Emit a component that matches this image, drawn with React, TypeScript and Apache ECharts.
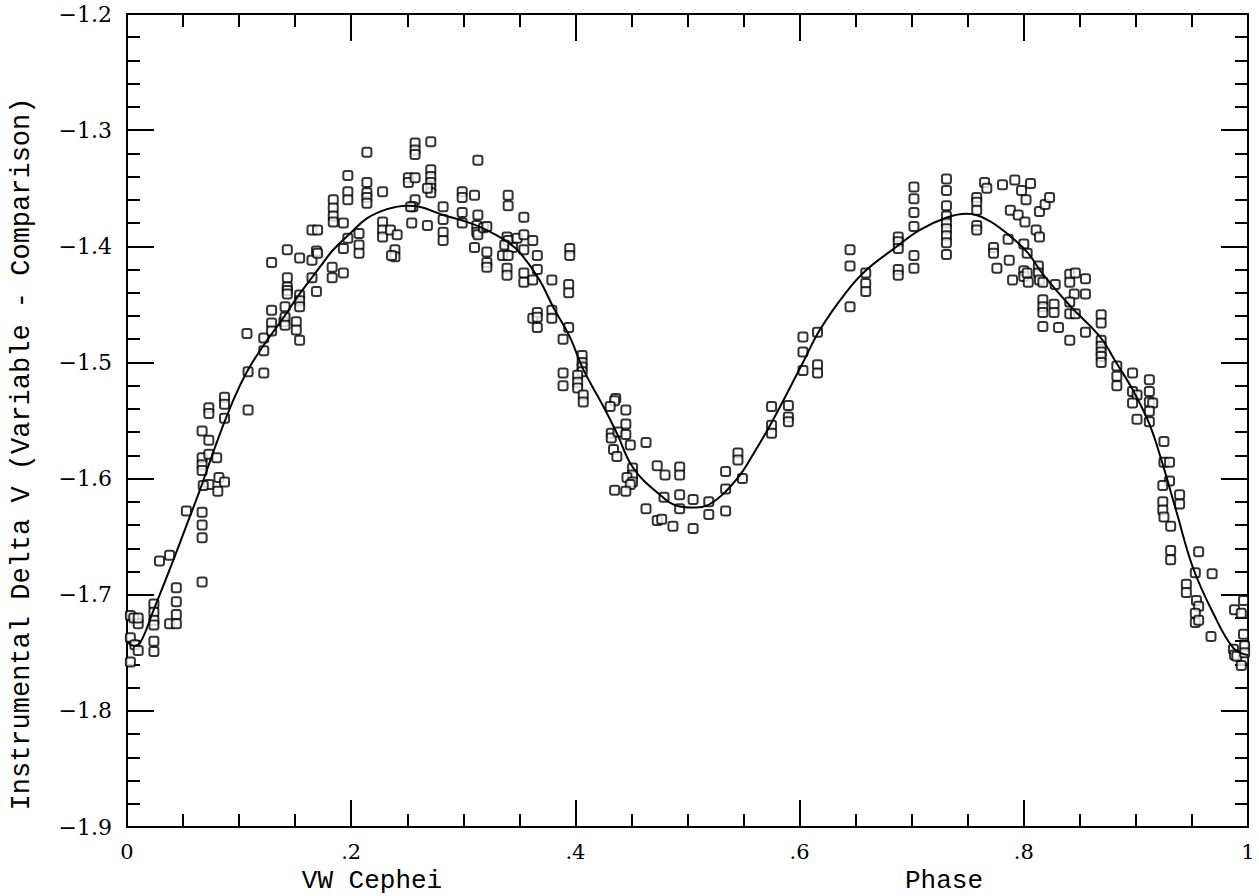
import React, { useEffect, useRef } from "react";
import * as echarts from "echarts";

// Observations: [phase, instrumental delta V]
const obsRise: number[][] = [
  [0.003, -1.718], [0.006, -1.72], [0.01, -1.725], [0.01, -1.72], [0.003, -1.737], [0.007, -1.743], [0.01, -1.748], [0.003, -1.758],
  [0.024, -1.708], [0.024, -1.715], [0.024, -1.722], [0.024, -1.726], [0.024, -1.74], [0.024, -1.749],
  [0.038, -1.666], [0.029, -1.671], [0.038, -1.725], [0.044, -1.694], [0.044, -1.706], [0.044, -1.717], [0.044, -1.725],
  [0.067, -1.689], [0.053, -1.628], [0.067, -1.629], [0.067, -1.64], [0.067, -1.651],
  [0.067, -1.559], [0.073, -1.567], [0.067, -1.582], [0.067, -1.588], [0.067, -1.593], [0.073, -1.579], [0.08, -1.582],
  [0.082, -1.599], [0.087, -1.603], [0.081, -1.611], [0.073, -1.605], [0.068, -1.606],
  [0.073, -1.539], [0.073, -1.544], [0.087, -1.53], [0.087, -1.536], [0.087, -1.548],
  [0.108, -1.541], [0.107, -1.475], [0.108, -1.508], [0.122, -1.509], [0.122, -1.49], [0.122, -1.479],
  [0.129, -1.455], [0.129, -1.414], [0.129, -1.466], [0.129, -1.473],
  [0.14, -1.465], [0.141, -1.461], [0.141, -1.468], [0.141, -1.452],
  [0.143, -1.403], [0.143, -1.427], [0.143, -1.435], [0.143, -1.438], [0.143, -1.441],
  [0.151, -1.465], [0.151, -1.472], [0.154, -1.481], [0.154, -1.442], [0.154, -1.447], [0.154, -1.452], [0.154, -1.41],
  [0.165, -1.427], [0.165, -1.412], [0.169, -1.404], [0.169, -1.439], [0.165, -1.386], [0.17, -1.386], [0.17, -1.406],
];

const obsPeak1: number[][] = [
  [0.184, -1.36], [0.184, -1.367], [0.184, -1.374], [0.184, -1.379], [0.193, -1.38],
  [0.183, -1.418], [0.183, -1.427], [0.193, -1.423], [0.193, -1.402], [0.197, -1.393], [0.197, -1.339], [0.197, -1.353], [0.197, -1.36],
  [0.207, -1.389], [0.207, -1.399], [0.207, -1.406],
  [0.214, -1.319], [0.214, -1.345], [0.214, -1.354], [0.214, -1.358], [0.214, -1.363],
  [0.228, -1.353], [0.228, -1.379], [0.228, -1.386], [0.228, -1.392], [0.235, -1.386], [0.241, -1.39], [0.239, -1.403], [0.239, -1.409], [0.236, -1.408],
  [0.254, -1.38], [0.251, -1.341], [0.251, -1.345], [0.257, -1.341], [0.257, -1.311], [0.257, -1.317], [0.257, -1.321], [0.257, -1.36], [0.255, -1.366], [0.253, -1.366],
  [0.271, -1.31], [0.271, -1.334], [0.271, -1.34], [0.271, -1.345], [0.271, -1.35], [0.271, -1.354], [0.268, -1.35], [0.268, -1.382],
  [0.282, -1.366], [0.282, -1.377], [0.282, -1.388], [0.282, -1.395],
  [0.299, -1.353], [0.299, -1.358], [0.299, -1.371], [0.299, -1.38],
  [0.31, -1.356], [0.313, -1.326], [0.313, -1.373], [0.312, -1.382], [0.312, -1.388], [0.313, -1.39], [0.318, -1.384], [0.321, -1.383],
  [0.31, -1.401], [0.321, -1.405], [0.321, -1.414], [0.321, -1.418],
  [0.34, -1.356], [0.34, -1.365], [0.339, -1.392], [0.34, -1.395], [0.337, -1.399], [0.348, -1.393], [0.344, -1.401], [0.335, -1.408], [0.34, -1.408], [0.339, -1.419], [0.339, -1.425],
  [0.354, -1.375], [0.354, -1.39], [0.362, -1.395], [0.354, -1.403], [0.366, -1.408], [0.354, -1.423], [0.354, -1.431], [0.362, -1.429], [0.366, -1.42], [0.379, -1.429],
  [0.362, -1.462], [0.366, -1.457], [0.366, -1.461], [0.366, -1.47], [0.379, -1.455], [0.379, -1.462],
  [0.395, -1.402], [0.395, -1.408], [0.394, -1.433], [0.394, -1.44],
];

const obsDip: number[][] = [
  [0.394, -1.47], [0.389, -1.48], [0.406, -1.494], [0.406, -1.5], [0.406, -1.504], [0.406, -1.508], [0.389, -1.509], [0.389, -1.52],
  [0.402, -1.511], [0.402, -1.517], [0.402, -1.522], [0.407, -1.528], [0.407, -1.534],
  [0.436, -1.531], [0.435, -1.533], [0.431, -1.538], [0.445, -1.541], [0.445, -1.553], [0.432, -1.561], [0.432, -1.565], [0.438, -1.56],
  [0.445, -1.562], [0.449, -1.571], [0.463, -1.569], [0.434, -1.575], [0.437, -1.581],
  [0.451, -1.591], [0.451, -1.597], [0.446, -1.599], [0.451, -1.603], [0.449, -1.605], [0.435, -1.61], [0.445, -1.611],
  [0.473, -1.589], [0.48, -1.597], [0.493, -1.59], [0.493, -1.597], [0.479, -1.616], [0.463, -1.626], [0.473, -1.636], [0.477, -1.635],
  [0.487, -1.641], [0.493, -1.614], [0.493, -1.626], [0.505, -1.618], [0.505, -1.643], [0.519, -1.62], [0.519, -1.631],
  [0.534, -1.594], [0.534, -1.609], [0.534, -1.628], [0.545, -1.578], [0.545, -1.584],
];

const obsPeak2: number[][] = [
  [0.549, -1.6], [0.575, -1.538], [0.575, -1.554], [0.575, -1.561], [0.59, -1.537], [0.59, -1.547], [0.59, -1.551],
  [0.603, -1.478], [0.603, -1.491], [0.603, -1.507], [0.616, -1.474], [0.616, -1.502], [0.616, -1.509],
  [0.645, -1.403], [0.645, -1.417], [0.645, -1.452], [0.659, -1.423], [0.659, -1.432], [0.659, -1.439],
  [0.688, -1.392], [0.688, -1.396], [0.688, -1.402], [0.688, -1.42], [0.688, -1.425],
  [0.702, -1.349], [0.702, -1.359], [0.702, -1.371], [0.702, -1.383], [0.702, -1.408], [0.702, -1.419],
  [0.731, -1.342], [0.731, -1.352], [0.731, -1.365], [0.731, -1.374], [0.731, -1.38], [0.731, -1.385], [0.731, -1.391], [0.731, -1.397], [0.731, -1.407],
  [0.758, -1.358], [0.758, -1.362], [0.758, -1.369], [0.758, -1.382], [0.758, -1.386],
  [0.765, -1.345], [0.767, -1.35], [0.781, -1.347], [0.792, -1.343], [0.798, -1.352], [0.802, -1.36], [0.806, -1.346],
  [0.814, -1.37], [0.819, -1.364], [0.823, -1.358], [0.788, -1.369], [0.795, -1.373], [0.801, -1.379], [0.811, -1.386],
];

const obsFall: number[][] = [
  [0.773, -1.401], [0.773, -1.406], [0.786, -1.394], [0.8, -1.398], [0.803, -1.406], [0.814, -1.392],
  [0.776, -1.419], [0.787, -1.412], [0.79, -1.429], [0.8, -1.421], [0.8, -1.426], [0.803, -1.423], [0.804, -1.431],
  [0.813, -1.417], [0.813, -1.423], [0.814, -1.429], [0.817, -1.431], [0.828, -1.433], [0.841, -1.424], [0.841, -1.431],
  [0.846, -1.423], [0.855, -1.428], [0.845, -1.441], [0.855, -1.441], [0.817, -1.446], [0.817, -1.452], [0.817, -1.457],
  [0.827, -1.45], [0.827, -1.457], [0.841, -1.448], [0.841, -1.458], [0.846, -1.458], [0.817, -1.469], [0.831, -1.47],
  [0.841, -1.481], [0.855, -1.474], [0.869, -1.459], [0.869, -1.466], [0.869, -1.481], [0.869, -1.486], [0.869, -1.491],
  [0.869, -1.495], [0.869, -1.5], [0.883, -1.503], [0.883, -1.512], [0.883, -1.52], [0.897, -1.509], [0.897, -1.525],
  [0.901, -1.528], [0.897, -1.535], [0.901, -1.549], [0.912, -1.515], [0.912, -1.525], [0.912, -1.534], [0.915, -1.535],
  [0.912, -1.542], [0.912, -1.551], [0.925, -1.568], [0.925, -1.586], [0.93, -1.586], [0.93, -1.602], [0.924, -1.606],
  [0.924, -1.62], [0.924, -1.627], [0.925, -1.633], [0.931, -1.641], [0.939, -1.614], [0.939, -1.622], [0.931, -1.662],
  [0.931, -1.67], [0.956, -1.663], [0.953, -1.681], [0.968, -1.682], [0.945, -1.691], [0.945, -1.698], [0.954, -1.705],
  [0.956, -1.71], [0.953, -1.716], [0.953, -1.724], [0.956, -1.722], [0.967, -1.736], [0.988, -1.713], [0.996, -1.705],
  [0.994, -1.716], [0.996, -1.734], [0.987, -1.747], [0.988, -1.752], [0.996, -1.756], [0.994, -1.761], [0.99, -1.753],
  [0.997, -1.744], [0.997, -1.75],
];

// Fitted light curve
const fitPhase: number[] = [
  0, 0.006, 0.012, 0.023, 0.041, 0.054, 0.065, 0.08, 0.095, 0.107, 0.122, 0.137, 0.154, 0.172, 0.184, 0.199, 0.214,
  0.232, 0.25, 0.261, 0.282, 0.303, 0.321, 0.339, 0.351, 0.368, 0.38, 0.395, 0.407, 0.425, 0.437, 0.451, 0.473,
  0.493, 0.508, 0.526, 0.546, 0.558, 0.576, 0.603, 0.618, 0.642, 0.66, 0.687, 0.707, 0.732, 0.749, 0.767, 0.785,
  0.803, 0.817, 0.841, 0.868, 0.883, 0.898, 0.912, 0.924, 0.936, 0.951, 0.969, 0.987, 1.0,
];
const fitMag: number[] = [
  -1.74, -1.744, -1.741, -1.715, -1.671, -1.638, -1.61, -1.569, -1.532, -1.508, -1.485, -1.465, -1.441, -1.418, -1.403, -1.389, -1.376,
  -1.368, -1.365, -1.366, -1.373, -1.379, -1.386, -1.396, -1.406, -1.429, -1.452, -1.478, -1.506, -1.538, -1.561, -1.59, -1.612,
  -1.624, -1.625, -1.618, -1.598, -1.58, -1.55, -1.5, -1.472, -1.439, -1.42, -1.4, -1.386, -1.375, -1.372, -1.377, -1.389,
  -1.405, -1.424, -1.451, -1.478, -1.501, -1.525, -1.553, -1.588, -1.628, -1.677, -1.716, -1.746, -1.752,
];

const xTickValues: number[] = [0, 0.2, 0.4, 0.6, 0.8, 1];
const yTickValues: number[] = [-1.9, -1.8, -1.7, -1.6, -1.5, -1.4, -1.3, -1.2];

const yTitle = "Instrumental Delta V (Variable - Comparison)";
const xTitleLeft = "VW Cephei";
const xTitleRight = "Phase";

const AXIS_COLOR = "#000";
const LABEL_FONT = "DejaVu Serif";
const MONO_FONT = "Liberation Mono";

function fmtX(v: number): string {
  const r = Math.round(v * 10) / 10;
  if (r === 0) return "0";
  if (r === 1) return "1";
  return r.toFixed(1).replace(/^0/, "");
}
function fmtY(v: number): string {
  const r = Math.round(v * 10) / 10;
  return (r < 0 ? "\u2212" : "") + Math.abs(r).toFixed(1);
}

export default function App() {
  const ref = useRef<HTMLDivElement>(null);
  useEffect(() => {
    if (!ref.current) return;
    const chart = echarts.init(ref.current, undefined, { renderer: "svg" });
    const tickStyle = { color: AXIS_COLOR, width: 2 };
    const baseX = {
      type: "value" as const,
      min: 0,
      max: 1,
      interval: 0.2,
      axisLine: { show: true, onZero: false, lineStyle: { color: AXIS_COLOR, width: 2 } },
      axisTick: { show: true, inside: true, length: 27, lineStyle: tickStyle },
      minorTick: { show: true, splitNumber: 4, length: 13, lineStyle: tickStyle },
      splitLine: { show: false },
      minorSplitLine: { show: false },
    };
    const baseY = {
      type: "value" as const,
      min: -1.9,
      max: -1.2,
      interval: 0.1,
      axisLine: { show: true, onZero: false, lineStyle: { color: AXIS_COLOR, width: 2 } },
      axisTick: { show: true, inside: true, length: 27, lineStyle: tickStyle },
      minorTick: { show: true, splitNumber: 5, length: 13, lineStyle: tickStyle },
      splitLine: { show: false },
      minorSplitLine: { show: false },
    };
    const pointStyle = {
      type: "scatter" as const,
      symbol: "roundRect",
      symbolSize: 9,
      itemStyle: { color: "#fff", borderColor: "#000", borderWidth: 2 },
      z: 3,
    };
    chart.setOption({
      animation: false,
      backgroundColor: "#fff",
      grid: { left: 127, right: 11, top: 14, bottom: 69, containLabel: false },
      xAxis: [
        {
          ...baseX,
          position: "bottom",
          axisLabel: {
            show: true,
            margin: 14,
            color: "#000",
            fontFamily: LABEL_FONT,
            fontSize: 21,
            formatter: (v: number) => (xTickValues.some((t) => Math.abs(t - v) < 1e-6) ? fmtX(v) : ""),
          },
        },
        { ...baseX, position: "top", axisLabel: { show: false } },
      ],
      yAxis: [
        {
          ...baseY,
          position: "left",
          axisLabel: {
            show: true,
            margin: 15,
            color: "#000",
            fontFamily: LABEL_FONT,
            fontSize: 22,
            formatter: (v: number) => (yTickValues.some((t) => Math.abs(t - v) < 1e-6) ? fmtY(v) : ""),
          },
        },
        { ...baseY, position: "right", axisLabel: { show: false } },
      ],
      series: [
        { ...pointStyle, name: "rise", data: obsRise },
        { ...pointStyle, name: "peak1", data: obsPeak1 },
        { ...pointStyle, name: "dip", data: obsDip },
        { ...pointStyle, name: "peak2", data: obsPeak2 },
        { ...pointStyle, name: "fall", data: obsFall },
        {
          type: "line",
          name: "fit",
          data: fitPhase.map((p, i) => [p, fitMag[i]]),
          showSymbol: false,
          smooth: 0.4,
          lineStyle: { color: "#000", width: 2 },
          z: 4,
        },
      ],
      graphic: [
        {
          type: "text",
          x: 22,
          y: 454,
          rotation: Math.PI / 2,
          style: {
            text: yTitle,
            font: `27px "${MONO_FONT}"`,
            fill: "#000",
            align: "center",
            verticalAlign: "middle",
          },
        },
        {
          type: "text",
          x: 372,
          y: 881,
          style: { text: xTitleLeft, font: `26px "${MONO_FONT}"`, fill: "#000", align: "center", verticalAlign: "middle" },
        },
        {
          type: "text",
          x: 944,
          y: 881,
          style: { text: xTitleRight, font: `26px "${MONO_FONT}"`, fill: "#000", align: "center", verticalAlign: "middle" },
        },
      ],
    });
    return () => chart.dispose();
  }, []);
  return (
    <div
      ref={ref}
      style={{ position: "fixed", left: 0, top: 0, width: 1259, height: 896, background: "#fff" }}
    />
  );
}
